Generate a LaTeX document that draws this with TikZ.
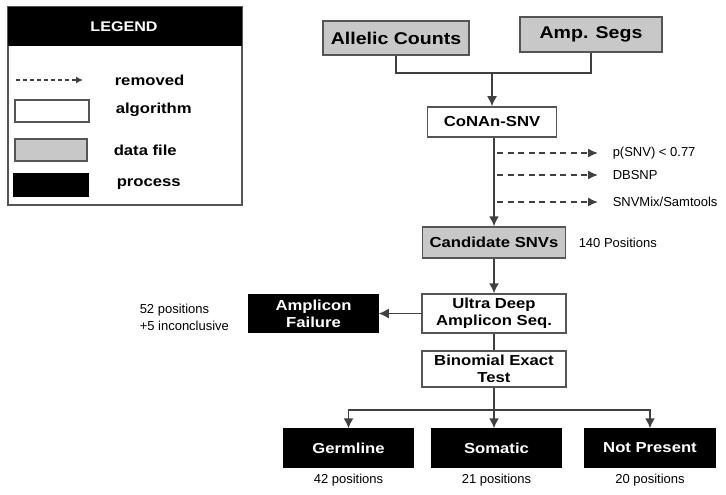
\documentclass[tikz,border=0pt]{standalone}
\usepackage{fontspec}
\setmainfont{Liberation Sans}
\newfontfamily\boxfont{Liberation Sans}[FakeStretch=1.15]
\usetikzlibrary{arrows.meta}

\definecolor{datagray}{RGB}{200,200,200}
\definecolor{edgegray}{RGB}{85,85,85}
\definecolor{linegray}{RGB}{64,64,64}

\tikzset{
  every picture/.style={line width=1.5pt},
  boxtext/.style={font=\boxfont\bfseries\fontsize{14.5}{17}\selectfont, align=center},
  algobox/.style={boxtext, draw=edgegray, fill=white, inner sep=0pt},
  databox/.style={boxtext, draw=edgegray, fill=datagray, inner sep=0pt},
  procbox/.style={boxtext, draw=black, fill=black, text=white, inner sep=0pt},
  note/.style={font=\fontsize{13}{17}\selectfont, inner sep=0pt},
  flow/.style={draw=linegray, -{Latex[length=10pt,width=10pt]}},
  removedarrow/.style={draw=linegray, dash pattern=on 6pt off 4.5pt, -{Latex[length=10pt,width=9pt]}},
}

\begin{document}
\begin{tikzpicture}[x=1pt,y=1pt,yscale=-1]
  \useasboundingbox (0,0) rectangle (726,495);

  % legend
  \draw [edgegray, fill=white] (8,7) rectangle (242,205);
  \fill [black] (8,7) rectangle (242,46);
  \node [boxtext, text=white, font=\boxfont\bfseries\fontsize{14}{16}\selectfont] (legtitle) at (124,27) {LEGEND};
  \coordinate (legas) at (16,80);
  \coordinate (legae) at (83,80);
  \draw [removedarrow, line width=1.2pt, dash pattern=on 4pt off 3pt, -{Latex[length=7pt,width=7pt]}] (legas) -- (legae);
  \draw [edgegray, fill=white] (15,100) rectangle (89,122);
  \draw [edgegray, fill=datagray] (15,139) rectangle (87,161);
  \fill [black] (13,173) rectangle (89,197);
  \node [boxtext, inner sep=0pt, anchor=west] (legrem) at (114,80) {removed};
  \node [boxtext, inner sep=0pt, anchor=west] (legalg) at (115,110) {algorithm};
  \node [boxtext, inner sep=0pt, anchor=west] (legdat) at (113,150) {data file};
  \node [boxtext, inner sep=0pt, anchor=west] (legpro) at (116,184) {process};

  % inputs
  \node [databox, minimum width=146pt, minimum height=34pt, font=\boxfont\bfseries\fontsize{17}{20}\selectfont] (counts) at (396,38) {Allelic Counts};
  \node [databox, minimum width=142pt, minimum height=35pt, font=\boxfont\bfseries\fontsize{17}{20}\selectfont] (segs) at (591,34.5) {Amp. Segs};

  % pipeline
  \node [algobox, minimum width=129pt, minimum height=30pt] (conan) at (492,122) {CoNAn-SNV};
  \node [databox, minimum width=143pt, minimum height=31pt] (cand) at (494,242.5) {Candidate SNVs};
  \node [algobox, minimum width=144pt, minimum height=39pt] (ultra) at (494,313.5) {Ultra Deep\\Amplicon Seq.};
  \node [algobox, minimum width=144pt, minimum height=36pt] (binom) at (494,369) {Binomial Exact\\Test};
  \node [procbox, minimum width=129pt, minimum height=37pt] (fail) at (313.5,313.5) {Amplicon\\Failure};

  \coordinate (join) at (492,73);
  \draw [linegray] (counts.south) |- (join) -| (segs.south);
  \draw [flow] (join) -- (conan.north);
  \draw [flow] (conan.south -| cand.north) -- (cand.north);
  \draw [flow] (cand.south) -- (ultra.north);
  \draw [flow] (ultra.west) -- (fail.east);
  \draw [linegray] (ultra.south) -- (binom.north);

  % filters
  \node [note, anchor=west] (pval) at (612,153) {p(SNV) < 0.77};
  \node [note, anchor=west] (dbsnp) at (612,175) {DBSNP};
  \node [note, anchor=west] (mix) at (612,202) {SNVMix/Samtools};
  \coordinate (pvals) at (497,153);
  \coordinate (dbsnps) at (497,175);
  \coordinate (mixs) at (497,202);
  \draw [removedarrow] (pvals) -- ([xshift=-14pt]pval.west);
  \draw [removedarrow] (dbsnps) -- ([xshift=-14pt]dbsnp.west);
  \draw [removedarrow] (mixs) -- ([xshift=-14pt]mix.west);

  \node [note, anchor=west] (candcount) at (578,242.5) {140 Positions};
  \node [note, anchor=west, align=left] (failcount) at (139,317) {52 positions\\+5 inconclusive};

  % outcomes
  \node [procbox, minimum width=129pt, minimum height=38pt] (germ) at (348.5,448) {Germline};
  \node [procbox, minimum width=129pt, minimum height=38pt] (soma) at (496.5,448) {Somatic};
  \node [procbox, minimum width=130pt, minimum height=38pt] (absent) at (650,448) {Not Present};
  \coordinate (split) at (494,410);
  \draw [linegray] (binom.south) -- (split);
  \draw [flow] (split) -| (germ.north);
  \draw [flow] (split) -| (absent.north);
  \draw [flow] (split) -- (split |- soma.north);

  \node [note] (germcount) at (348.5,480) {42 positions};
  \node [note] (somacount) at (496.5,480) {21 positions};
  \node [note] (absentcount) at (650,480) {20 positions};
\end{tikzpicture}
\end{document}
